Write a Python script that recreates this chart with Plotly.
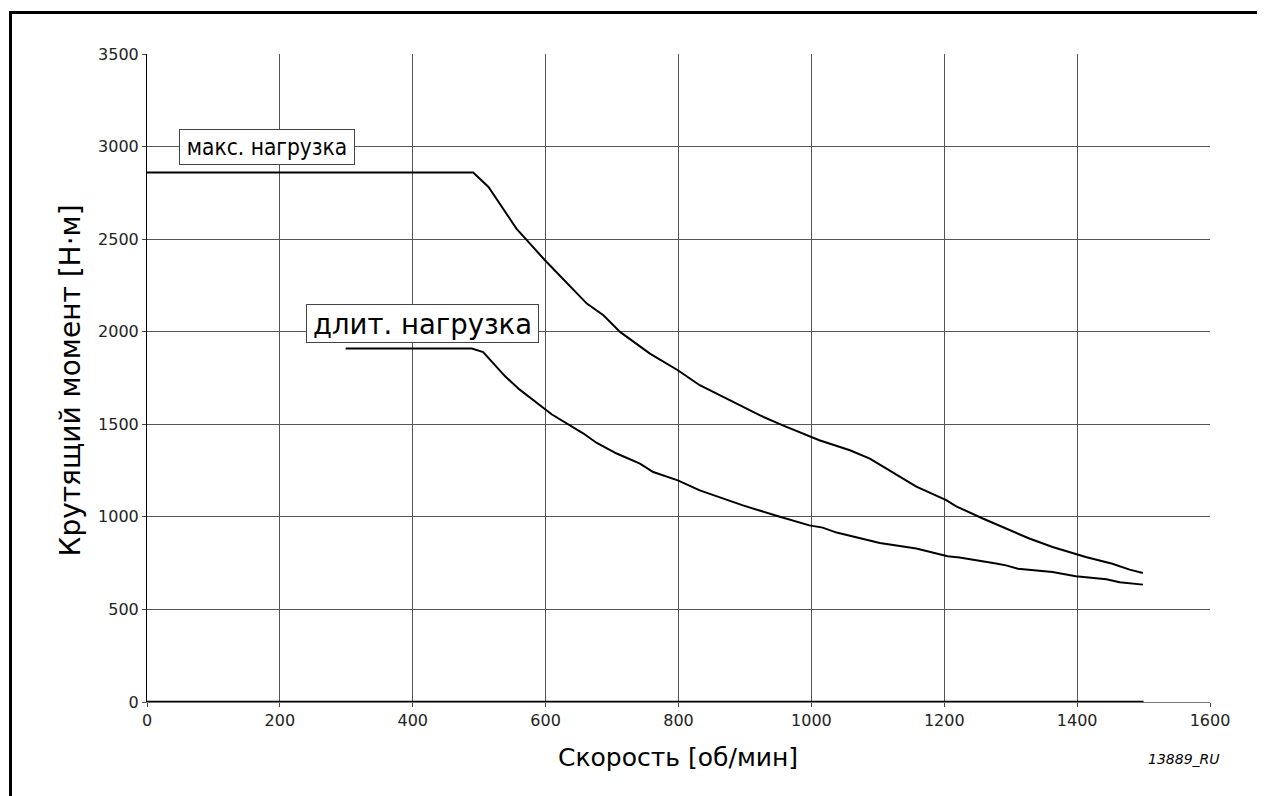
import plotly.graph_objects as go

# Data
max_speed = [0, 491, 514, 556, 571, 599, 662, 687, 712, 757, 799, 832, 877, 922, 957, 997,
             1012, 1058, 1088, 1113, 1158, 1203, 1218, 1258, 1303, 1328, 1363, 1398, 1413,
             1453, 1479, 1499]
max_torque = [2860, 2860, 2782, 2557, 2497, 2386, 2152, 2089, 1999, 1882, 1792, 1711, 1630,
              1549, 1494, 1435, 1414, 1360, 1315, 1261, 1163, 1090, 1057, 991, 924, 883, 837,
              801, 783, 747, 715, 697]

cont_speed = [299, 489, 506, 539, 561, 596, 609, 657, 677, 707, 742, 762, 799, 832, 872, 897,
              950, 967, 997, 1017, 1038, 1103, 1133, 1158, 1205, 1223, 1278, 1293, 1311, 1363,
              1398, 1444, 1464, 1499]
cont_torque = [1909, 1909, 1890, 1759, 1687, 1593, 1554, 1450, 1399, 1342, 1288, 1242, 1197,
               1143, 1093, 1062, 1003, 985, 954, 942, 915, 859, 843, 829, 787, 780, 748, 738,
               720, 702, 679, 663, 647, 634]

zero_speed = [0, 1500]
zero_torque = [0, 0]

x_ticks = [0, 200, 400, 600, 800, 1000, 1200, 1400, 1600]
y_ticks = [0, 500, 1000, 1500, 2000, 2500, 3000, 3500]

label_max = "макс. нагрузка"
label_cont = "длит. нагрузка"
x_title = "Скорость [об/мин]"
y_title = "Крутящий момент [Н·м]"
code_label = "13889_RU"

OFF = 8  # page body margin
W, H = 1265 - OFF, 796 - OFF
ML, MR, MT, MB = 147 - OFF, 55, 54 - OFF, 94
PW, PH = W - ML - MR, H - MT - MB


def px_x(p):
    # p: page pixel x
    return (p - OFF - ML) / PW


def px_y(p):
    # p: page pixel y
    return (H - MB - (p - OFF)) / PH


fig = go.Figure()
fig.add_trace(go.Scatter(x=zero_speed, y=zero_torque, mode="lines",
                         line=dict(color="black", width=2.5), hoverinfo="skip"))
fig.add_trace(go.Scatter(x=max_speed, y=max_torque, mode="lines",
                         line=dict(color="black", width=2), name=label_max))
fig.add_trace(go.Scatter(x=cont_speed, y=cont_torque, mode="lines",
                         line=dict(color="black", width=2), name=label_cont))

fig.update_layout(
    width=W, height=H,
    margin=dict(l=ML, r=MR, t=MT, b=MB),
    paper_bgcolor="white", plot_bgcolor="white",
    showlegend=False,
    font=dict(family="DejaVu Sans", color="#222"),
)
fig.update_xaxes(range=[0, 1600], tickvals=x_ticks, ticktext=[str(v) for v in x_ticks],
                 showgrid=True, gridcolor="#555", gridwidth=1,
                 showline=True, linecolor="#777", linewidth=1,
                 ticks="outside", ticklen=4, tickcolor="#444",
                 tickfont=dict(size=16, family="DejaVu Sans", color="#222"),
                 zeroline=False, fixedrange=True)
fig.update_yaxes(range=[0, 3500], tickvals=y_ticks, ticktext=[str(v) for v in y_ticks],
                 showgrid=True, gridcolor="#555", gridwidth=1,
                 showline=True, linecolor="black", linewidth=1,
                 ticks="outside", ticklen=4, tickcolor="#444",
                 tickfont=dict(size=16, family="DejaVu Sans", color="#222"),
                 zeroline=False, fixedrange=True)

# outer frame
fig.add_shape(type="rect", xref="paper", yref="paper",
              x0=px_x(10.5), x1=px_x(1320), y0=px_y(12.5), y1=px_y(840),
              line=dict(color="black", width=3), fillcolor="rgba(0,0,0,0)", layer="above")

fig.add_annotation(x=180, y=3000, xref="x", yref="y", text=label_max, showarrow=False,
                   font=dict(family="DejaVu Sans Condensed", size=22.5, color="black"),
                   bgcolor="white", bordercolor="#444", borderwidth=1, borderpad=0,
                   width=174, height=34, xanchor="center", yanchor="middle")
fig.add_annotation(x=415, y=2046, xref="x", yref="y", text=label_cont, showarrow=False,
                   font=dict(family="DejaVu Sans", size=27.5, color="black"),
                   bgcolor="white", bordercolor="#444", borderwidth=1, borderpad=0,
                   width=231, height=37, xanchor="center", yanchor="middle")

fig.add_annotation(x=px_x(678), y=px_y(757), xref="paper", yref="paper", text=x_title,
                   showarrow=False, font=dict(family="DejaVu Sans", size=25, color="black"),
                   xanchor="center", yanchor="middle")
fig.add_annotation(x=px_x(69.5), y=px_y(381), xref="paper", yref="paper", text=y_title,
                   showarrow=False, textangle=-90,
                   font=dict(family="DejaVu Sans", size=28, color="black"),
                   xanchor="center", yanchor="middle")
fig.add_annotation(x=px_x(1184), y=px_y(759), xref="paper", yref="paper",
                   text="<i>" + code_label + "</i>", showarrow=False,
                   font=dict(family="DejaVu Sans", size=14, color="black"),
                   xanchor="center", yanchor="middle")

fig.write_html("out.html")
